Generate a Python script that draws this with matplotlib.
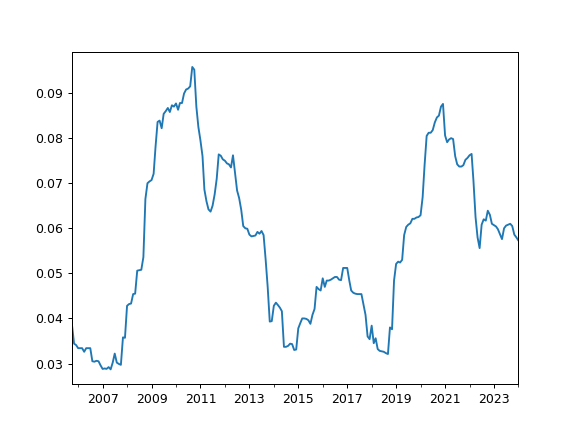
import numpy as np
import pandas as pd
import matplotlib
matplotlib.use("Agg")
import matplotlib.pyplot as plt
import matplotlib.dates as mdates
from datetime import datetime

# monthly values, Oct 2005 .. Jan 2024
dates = pd.date_range("2005-10-01", "2024-01-01", freq="MS")
values = [
    0.0385, 0.0344, 0.0341, 0.0334, 0.0334, 0.0334, 0.0326, 0.0334, 0.0334, 0.0334,
    0.0305, 0.0304, 0.0306, 0.0305, 0.0296, 0.0288, 0.0289, 0.0288, 0.0292, 0.0287,
    0.0302, 0.0322, 0.0302, 0.0299, 0.0297, 0.0358, 0.0357, 0.0428, 0.0432, 0.0433,
    0.0454, 0.0455, 0.0506, 0.0507, 0.0508, 0.0536, 0.0665, 0.0700, 0.0704, 0.0707,
    0.0721, 0.0780, 0.0836, 0.0839, 0.0822, 0.0854, 0.0860, 0.0867, 0.0858, 0.0873,
    0.0870, 0.0877, 0.0863, 0.0878, 0.0878, 0.0899, 0.0908, 0.0910, 0.0915, 0.0958,
    0.0952, 0.0870, 0.0825, 0.0795, 0.0760, 0.0686, 0.0660, 0.0642, 0.0637, 0.0650,
    0.0675, 0.0710, 0.0764, 0.0761, 0.0753, 0.0750, 0.0744, 0.0742, 0.0735, 0.0762,
    0.0722, 0.0684, 0.0667, 0.0641, 0.0605, 0.0600, 0.0599, 0.0586, 0.0582, 0.0583,
    0.0584, 0.0592, 0.0588, 0.0594, 0.0585, 0.0530, 0.0470, 0.0393, 0.0394, 0.0428,
    0.0435, 0.0430, 0.0424, 0.0416, 0.0337, 0.0337, 0.0339, 0.0344, 0.0343, 0.0330,
    0.0331, 0.0378, 0.0390, 0.0400, 0.0400, 0.0399, 0.0396, 0.0388, 0.0408, 0.0421,
    0.0470, 0.0465, 0.0462, 0.0489, 0.0470, 0.0484, 0.0484, 0.0486, 0.0489, 0.0492,
    0.0492, 0.0486, 0.0485, 0.0512, 0.0512, 0.0512, 0.0484, 0.0462, 0.0457, 0.0455,
    0.0454, 0.0454, 0.0454, 0.0430, 0.0408, 0.0360, 0.0354, 0.0384, 0.0345, 0.0356,
    0.0332, 0.0328, 0.0327, 0.0326, 0.0323, 0.0321, 0.0380, 0.0376, 0.0484, 0.0521,
    0.0526, 0.0524, 0.0530, 0.0585, 0.0603, 0.0608, 0.0611, 0.0621, 0.0621, 0.0624,
    0.0625, 0.0629, 0.0669, 0.0740, 0.0805, 0.0812, 0.0812, 0.0818, 0.0835, 0.0846,
    0.0850, 0.0870, 0.0876, 0.0806, 0.0791, 0.0797, 0.0800, 0.0798, 0.0760, 0.0742,
    0.0737, 0.0737, 0.0740, 0.0752, 0.0756, 0.0762, 0.0765, 0.0705, 0.0625, 0.0580,
    0.0556, 0.0608, 0.0620, 0.0617, 0.0639, 0.0630, 0.0610, 0.0607, 0.0604, 0.0598,
    0.0587, 0.0576, 0.0600, 0.0606, 0.0608, 0.0610, 0.0605, 0.0586, 0.0580, 0.0573,
]

major_years = [datetime(y, 1, 1) for y in range(2007, 2024, 2)]

fig, ax = plt.subplots(figsize=(6.4, 4.8), dpi=90)
ax.plot(dates, values, color="C0")
ax.set_xlim(dates[0], dates[-1])
ax.set_xticks(major_years)
ax.xaxis.set_major_formatter(mdates.DateFormatter("%Y"))
ax.xaxis.set_minor_locator(mdates.YearLocator(1))
fig.savefig("out.png", dpi=90)
